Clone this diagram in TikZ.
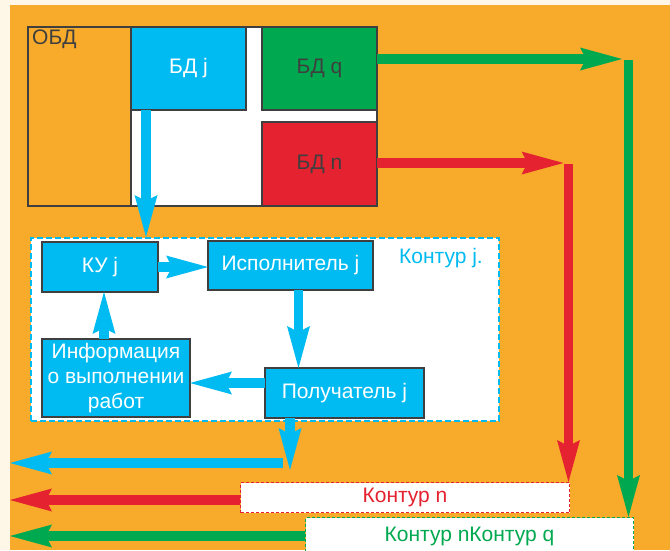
\documentclass[tikz,border=0pt]{standalone}
\usepackage{fontspec}
\setmainfont{Liberation Sans}
\usetikzlibrary{arrows.meta}
\definecolor{bg}{HTML}{FEF6E7}
\definecolor{org}{HTML}{F8AB2B}
\definecolor{cy}{HTML}{00BBF1}
\definecolor{gr}{HTML}{00A94F}
\definecolor{rd}{HTML}{E42230}
\definecolor{dk}{HTML}{3F3F3F}
\newcommand\myfs{\fontsize{21}{25}\selectfont}
\tikzset{
  blk/.style={draw=dk, line width=1.3pt, inner sep=0pt, outer sep=0pt, anchor=north west, font=\myfs, align=center},
  cybox/.style={blk, fill=cy, text=white},
  fat/.style={line width=9.5pt, -{Stealth[length=42pt,width=23pt,inset=6pt,line width=0pt]}},
  bar/.style={line width=9.5pt}
}
\begin{document}
\begin{tikzpicture}[x=1pt,y=-1pt]
\fill[bg] (0,0) rectangle (670,550);
\useasboundingbox (0,0) rectangle (670,550);
\fill[org] (10,5) rectangle (670,550);
% database frame
\node[blk, fill=white, minimum width=349, minimum height=179] (frame) at (28,27) {};
\node[blk, fill=org, minimum width=103, minimum height=179] (obd) at (28,27) {};
\node[anchor=north west, font=\myfs, text=dk, inner sep=0pt] (obdt) at (32,30) {ОБД};
\node[cybox, minimum width=115, minimum height=83] (bdj) at (131,27) {БД j};
\node[blk, fill=gr, text=dk, minimum width=115, minimum height=83] (bdq) at (262,27) {БД q};
\node[blk, fill=rd, text=dk, minimum width=115, minimum height=84] (bdn) at (262,122) {БД n};
% contour j
\node[draw=cy, fill=white, line width=2.2pt, dash pattern=on 6pt off 3pt, minimum width=468, minimum height=183, anchor=north west, inner sep=0pt] (kj) at (30,237) {};
\node[font=\myfs, text=cy, anchor=west, inner sep=0pt] (kjt) at (399,258) {Контур j.};
\node[cybox, minimum width=116, minimum height=50] (ku) at (42,242) {КУ j};
\node[cybox, minimum width=165, minimum height=49] (isp) at (208,241) {Исполнитель j};
\node[cybox, minimum width=148, minimum height=78] (info) at (42,339) {Информация\\о выполнении\\работ};
\node[cybox, minimum width=159, minimum height=50] (pol) at (265,368) {Получатель j};
% contour boxes at bottom
\node[draw=rd, fill=white, line width=1pt, dash pattern=on 3pt off 2pt, minimum width=329, minimum height=30, anchor=north west, inner sep=0pt, font=\myfs, text=rd] (kn) at (240,482) {Контур n};
\node[draw=gr, fill=white, line width=1pt, dash pattern=on 3pt off 2pt, minimum width=328, minimum height=38, anchor=north west, inner sep=0pt, font=\myfs, text=gr] (kq) at (305,517) {Контур nКонтур q};
% inner arrows
\draw[fat, cy] (ku.east) -- (ku.east -| isp.west);
\draw[fat, cy] ([xshift=8pt]isp.south) -- ([xshift=8pt]isp.south |- pol.north);
\draw[fat, cy] ([yshift=10pt]pol.west) -- ([yshift=10pt]pol.west -| info.east);
\draw[fat, cy] ([xshift=4pt]ku.south |- info.north) -- ([xshift=4pt]ku.south);
\draw[fat, cy] ([xshift=15pt]bdj.south west) -- ([xshift=15pt]bdj.south west |- kj.north);
% outgoing blue
\coordinate (bdown) at (290,470);
\draw[fat, cy] (pol.south -| bdown) -- (bdown);
\coordinate (bl1) at (283,463);
\coordinate (bl2) at (10,463);
\draw[fat, cy] (bl1) -- (bl2);
% green
\coordinate (gtip) at (622,59);
\coordinate (gtop) at (628.5,60);
\draw[fat, gr] (bdq.east |- gtip) -- (gtip);
\draw[fat, gr] (gtop) -- (gtop |- kq.north);
\coordinate (gl) at (10,536);
\draw[fat, gr] (kq.west |- gl) -- (gl);
% red
\coordinate (rtip) at (563.5,163);
\coordinate (rtop) at (568.5,163.5);
\draw[fat, rd] (bdn.east |- rtip) -- (rtip);
\draw[fat, rd] (rtop) -- (rtop |- kn.north);
\coordinate (rl) at (10,500);
\draw[fat, rd] (kn.west |- rl) -- (rl);
\end{tikzpicture}
\end{document}
